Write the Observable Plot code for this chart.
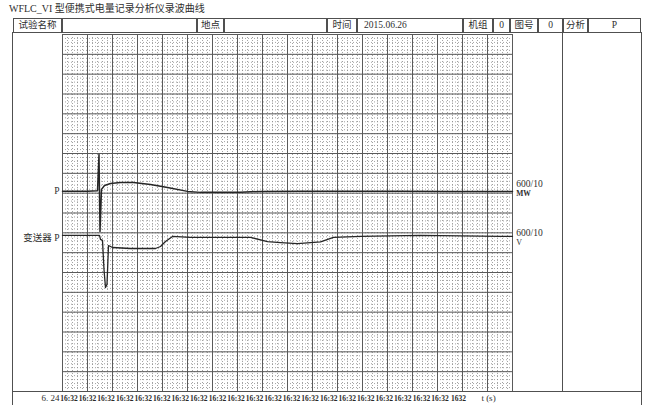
<!DOCTYPE html>
<html><head><meta charset="utf-8">
<script src="https://cdn.jsdelivr.net/npm/d3@7"></script>
<script src="https://cdn.jsdelivr.net/npm/@observablehq/plot@0.6"></script>
<style>
body{margin:0;background:#fff;}
#wrap{position:relative;width:648px;height:405px;overflow:hidden;font-family:"Liberation Serif","Noto Sans CJK SC",serif;color:#2e2e2e;background:#fff;}
#title{position:absolute;left:9px;top:3px;font-size:10px;line-height:12px;white-space:nowrap;}
.cell{position:absolute;box-sizing:border-box;font-size:9.5px;line-height:13px;white-space:nowrap;text-align:center;overflow:hidden;}
.ln{position:absolute;background:#505050;}
#plot{position:absolute;left:0;top:0;}
</style></head>
<body><div id="wrap"><div id="title"></div><div id="plot"></div></div>
<script>
// ---- data ----
const titleText = "WFLC_VI 型便携式电量记录分析仪录波曲线";
const headerTexts = ["试验名称", "", "地点", "", "时间", "2015.06.26", "机组", "0", "图号", "0", "分析", "P"];

// channel P (grid divisions)
const pTime  = [0, 1.0, 1.40, 1.46, 1.50, 1.56, 1.68, 1.92, 2.32, 2.84, 3.52, 4.2, 5.0, 5.52, 7.12, 7.92, 9.52, 13.52, 15.52, 18];
const pValue = [10.10, 10.10, 10.12, 11.95, 8.07, 10.19, 10.39, 10.49, 10.54, 10.54, 10.44, 10.29, 10.09, 10.04, 10.04, 10.09, 10.10, 10.10, 10.08, 10.09];

// channel 变送器 P
const tTime  = [0, 1.48, 1.52, 1.60, 1.66, 1.72, 1.78, 1.84, 2.0, 2.72, 3.72, 3.92, 4.12, 4.40, 5.12, 7.52, 8.2, 8.72, 9.4, 10.32, 10.84, 11.92, 14.32, 17.52, 18];
const tValue = [7.87, 7.87, 7.67, 7.62, 6.15, 5.24, 5.40, 7.36, 7.26, 7.21, 7.21, 7.31, 7.56, 7.82, 7.77, 7.77, 7.56, 7.51, 7.46, 7.54, 7.77, 7.82, 7.87, 7.82, 7.82];

const channelNames  = ["P", "变送器 P"];
const channelBase   = [10.10, 7.87];
const channelScales = ["600/10", "600/10"];
const channelUnits  = ["MW", "V"];

const timeStart = "6. 24";
const timeLabels = ["16:32","16:32","16:32","16:32","16:32","16:32","16:32","16:32","16:32","16:32","16:32",
                    "16:32","16:32","16:32","16:32","16:32","16:32","16:32","16:32","16:32","16:32","1632"];
const timeUnit = "t (s)";

// ---- layout ----
const wrap = document.getElementById("wrap");
document.getElementById("title").textContent = titleText;
const headerEdges = [13, 62, 197, 224, 327, 357, 463, 493, 510, 538, 563, 588, 641];
headerTexts.forEach((txt, i) => {
  const d = document.createElement("div");
  d.className = "cell";
  d.style.left = headerEdges[i] + "px";
  d.style.width = (headerEdges[i+1] - headerEdges[i]) + "px";
  d.style.top = "18px"; d.style.height = "15px";
  d.style.border = "1px solid #505050";
  if (i === 5) { d.style.textAlign = "left"; d.style.paddingLeft = "6px"; }
  d.textContent = txt;
  wrap.appendChild(d);
});
function line(x, y, w, h){ const d=document.createElement("div"); d.className="ln";
  Object.assign(d.style,{left:x+"px",top:y+"px",width:w+"px",height:h+"px"}); wrap.appendChild(d); }
line(12, 32, 1, 373);   // left border
line(641, 32, 1, 373);  // right border
line(562, 32, 1, 359);  // separator
line(12, 391, 630, 1);  // bottom of body

// ---- chart ----
const P = pTime.map((t, i) => ({t, v: pValue[i]}));
const T = tTime.map((t, i) => ({t, v: tValue[i]}));
const chans = channelNames.map((n, i) => ({name: n, base: channelBase[i], scale: channelScales[i], unit: channelUnits[i]}));
const majorX = d3.range(0, 18.01, 1), majorY = d3.range(0, 18.01, 1);
const minorX = d3.range(0, 18.01, 0.2), minorY = d3.range(0, 18.01, 0.2);
const dt = (15.84 - 0.26) / (timeLabels.length - 1);
const ticks = timeLabels.map((l, i) => ({t: 0.26 + i * dt, l}));
const fx = () => 18.15;

const chart = Plot.plot({
  width: 648, height: 405,
  marginLeft: 62, marginRight: 136, marginTop: 34, marginBottom: 14,
  x: {domain: [0, 18], axis: null},
  y: {domain: [0, 18], axis: null},
  style: {background: "transparent", fontFamily: "'Liberation Serif','Noto Sans CJK SC',serif", color: "#2e2e2e"},
  marks: [
    Plot.ruleX(minorX, {stroke: "#8c8c8c", strokeWidth: 0.8, strokeDasharray: "1,2"}),
    Plot.ruleY(minorY, {stroke: "#8c8c8c", strokeWidth: 0.8, strokeDasharray: "1,2"}),
    Plot.ruleX(majorX, {stroke: "#5a5a5a", strokeWidth: 1}),
    Plot.ruleY(majorY, {stroke: "#5a5a5a", strokeWidth: 1}),
    Plot.line(P, {x: "t", y: "v", stroke: "#262626", strokeWidth: 1.5}),
    Plot.line(T, {x: "t", y: "v", stroke: "#262626", strokeWidth: 1.3}),
    // left channel names
    Plot.text([chans[0]], {x: () => -0.12, y: "base", text: "name", textAnchor: "end", fontSize: 9.5}),
    Plot.text([chans[1]], {x: () => -0.12, y: "base", text: "name", textAnchor: "end", fontSize: 9.5, dy: 3}),
    // right scale labels
    Plot.text([chans[0]], {x: fx, y: "base", text: "scale", textAnchor: "start", fontSize: 9.5, dy: -7}),
    Plot.text([chans[0]], {x: fx, y: "base", text: "unit", textAnchor: "start", fontSize: 7.5, fontWeight: "bold", dy: 2}),
    Plot.text([chans[1]], {x: fx, y: "base", text: "scale", textAnchor: "start", fontSize: 9.5, dy: -2}),
    Plot.text([chans[1]], {x: fx, y: "base", text: "unit", textAnchor: "start", fontSize: 8, dy: 7}),
    // time row
    Plot.text(ticks, {x: "t", y: () => -0.35, text: "l", fontSize: 7.5, fontWeight: "bold", fill: "#2a2a2a"}),
    Plot.text([timeStart], {x: () => -0.48, y: () => -0.35, text: d => d, fontSize: 9}),
    Plot.text([timeUnit], {x: () => 17.04, y: () => -0.35, text: d => d, fontSize: 9})
  ]
});
document.getElementById("plot").appendChild(chart);
</script></body></html>
